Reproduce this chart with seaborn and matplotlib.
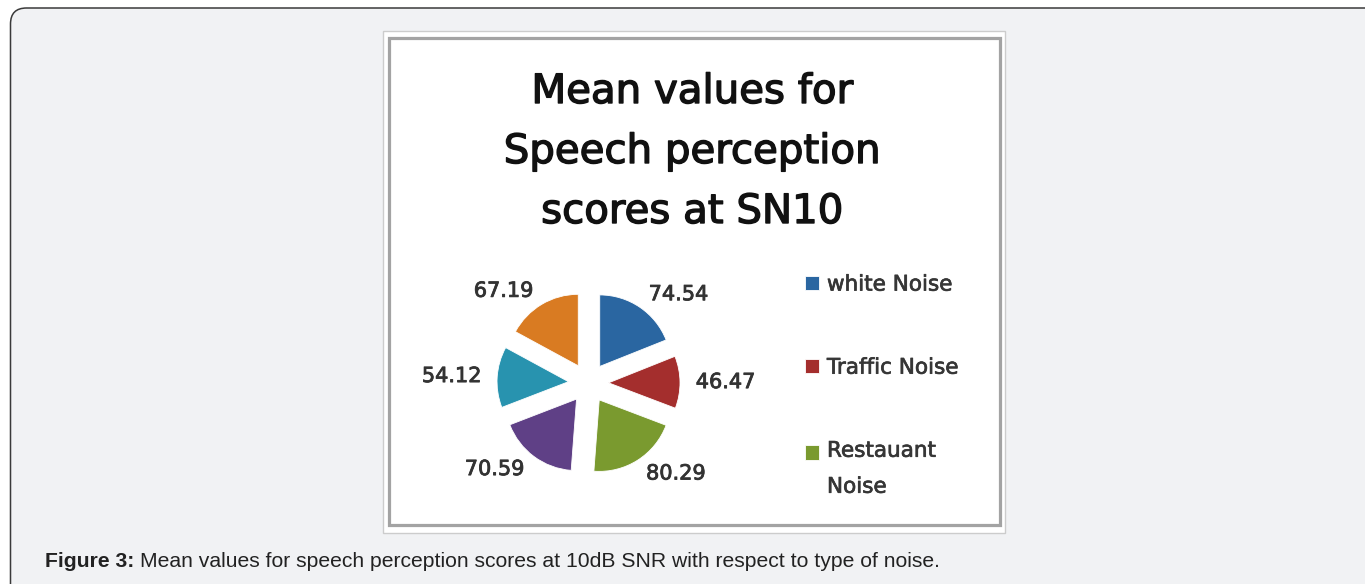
import matplotlib
matplotlib.use("Agg")
import matplotlib.pyplot as plt
import matplotlib.patheffects as pe
from matplotlib.patches import FancyBboxPatch, Rectangle
from matplotlib.legend_handler import HandlerPatch
import seaborn as sns

# data
slice_values = [74.54, 46.47, 80.29, 70.59, 54.12, 67.19]
slice_colors = ['#2a66a1', '#a42e2d', '#7a9a2f', '#5f4086', '#2893af', '#d97b22']
legend_labels = ['white Noise', 'Traffic Noise', 'Restauant\nNoise']
title_lines = ['Mean values for', 'Speech perception', 'scores at SN10']
caption_bold = 'Figure 3:'
caption_text = 'Mean values for speech perception scores at 10dB SNR with respect to type of noise.'

W, H = 1365, 584
sns.set_style('white')
plt.rcParams['font.family'] = ['DejaVu Sans']

fig = plt.figure(figsize=(W / 100, H / 100), dpi=100)
fig.patch.set_facecolor('white')

# pixel canvas for the page frame and the picture frame
bg = fig.add_axes([0, 0, 1, 1])
bg.set_xlim(0, W)
bg.set_ylim(H, 0)
bg.axis('off')
bg.add_patch(FancyBboxPatch((10.5, 8), W + 40, H + 30,
                            boxstyle='round,pad=0,rounding_size=16',
                            fc='#f1f2f4', ec='#3a3a3a', lw=1.1))
bg.add_patch(Rectangle((383, 31), 622, 502, fc='white', ec='#cccccc', lw=1))
bg.add_patch(Rectangle((389, 38), 611, 487, fc='white', ec='#a3a3a3', lw=2.3))

# title of the chart (slightly heavier strokes, like the blurred Excel title)
for i, line in enumerate(title_lines):
    bg.text(692, 103 + i * 60, line, ha='center', va='baseline',
            fontsize=29, color='#111111',
            path_effects=[pe.withStroke(linewidth=1.0, foreground='#111111')])

# exploded pie
cx, cy, r_px, box = 588.5, 383, 71.5, 400
ax = fig.add_axes([(cx - box / 2) / W, (H - cy - box / 2) / H, box / W, box / H])
wedges, texts = ax.pie(slice_values,
                       labels=[f'{v:.2f}' for v in slice_values],
                       colors=sns.color_palette(slice_colors),
                       startangle=90, counterclock=False,
                       explode=[0.28] * len(slice_values),
                       labeldistance=1.22,
                       wedgeprops=dict(edgecolor='white', linewidth=0.6),
                       textprops=dict(fontsize=15, color='#333333'))
for t in texts:
    t.set_path_effects([pe.withStroke(linewidth=0.6, foreground='#333333')])
lim = box / 2 / r_px
ax.set_xlim(-lim, lim)
ax.set_ylim(-lim, lim)
ax.patch.set_visible(False)

# legend (Excel shows only the first three series)
fs = 15.5


def plain_square(legend, orig_handle, xdescent, ydescent, width, height, fontsize):
    return Rectangle((-xdescent, -ydescent), width, height)


def lifted_square(legend, orig_handle, xdescent, ydescent, width, height, fontsize):
    return Rectangle((-xdescent, -ydescent + 0.77 * fontsize), width, height)


hmap = {w: HandlerPatch(patch_func=plain_square) for w in wedges[:2]}
hmap[wedges[2]] = HandlerPatch(patch_func=lifted_square)
leg = fig.legend(wedges[:3], legend_labels, handler_map=hmap,
                 loc='upper left', bbox_to_anchor=(805 / W, (H - 274.6) / H),
                 frameon=False, fontsize=fs, borderpad=0, borderaxespad=0,
                 handlelength=0.65, handleheight=0.65, handletextpad=0.37,
                 labelspacing=2.93, labelcolor='#363636')
for t in leg.get_texts():
    t.set_linespacing(2.0)
    t.set_path_effects([pe.withStroke(linewidth=0.5, foreground='#363636')])

# caption under the picture
t1 = bg.text(45, 567, caption_bold, ha='left', va='baseline', fontsize=15.2,
             fontweight='bold', color='#222222', family=['Liberation Sans', 'DejaVu Sans'])
bg.annotate(caption_text, xy=(1, 0), xycoords=t1, xytext=(4, 0),
            textcoords='offset points', ha='left', va='bottom', fontsize=15.2,
            color='#222222', family=['Liberation Sans', 'DejaVu Sans'])

fig.savefig('out.png', dpi=100)
